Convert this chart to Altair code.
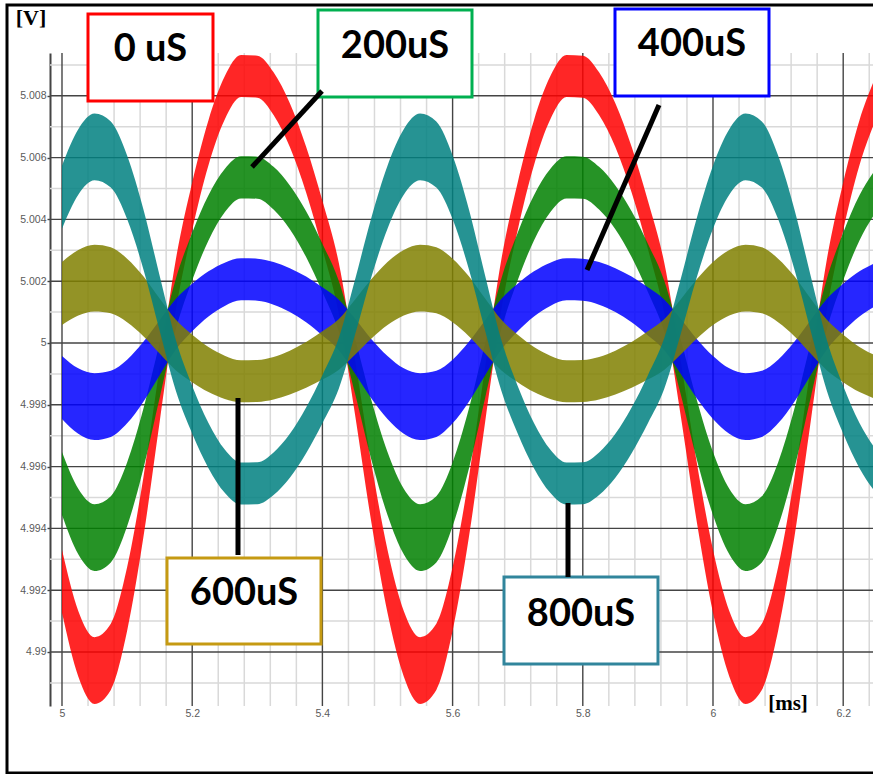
import altair as alt
import pandas as pd

# sample times (ms)
time_ms = [5.0, 5.025, 5.05, 5.075, 5.1, 5.125, 5.15, 5.175, 5.2, 5.225,
           5.25, 5.275, 5.3, 5.325, 5.35, 5.375, 5.4, 5.425, 5.45, 5.475,
           5.5, 5.525, 5.55, 5.575, 5.6, 5.625, 5.65, 5.675, 5.7, 5.725,
           5.75, 5.775, 5.8, 5.825, 5.85, 5.875, 5.9, 5.925, 5.95, 5.975,
           6.0, 6.025, 6.05, 6.075, 6.1, 6.125, 6.15, 6.175, 6.2, 6.225, 6.25]

# half-width of the switching ripple band (V)
ripple = [0.00102, 0.00106, 0.00108, 0.00107, 0.00103, 0.00097, 0.00089, 0.00082, 0.00077, 0.00073,
          0.00070, 0.00068, 0.00068, 0.00069, 0.00071, 0.00074, 0.00078, 0.00082, 0.00089, 0.00096,
          0.00102, 0.00106, 0.00108, 0.00107, 0.00103, 0.00097, 0.00089, 0.00082, 0.00077, 0.00073,
          0.00070, 0.00068, 0.00068, 0.00069, 0.00071, 0.00074, 0.00078, 0.00082, 0.00089, 0.00096,
          0.00102, 0.00106, 0.00108, 0.00107, 0.00103, 0.00097, 0.00089, 0.00082, 0.00077, 0.00073,
          0.00070]

# band centre (V) for each delay
v_0us = [4.99229, 4.99027, 4.98940, 4.98984, 4.99171, 4.99468, 4.99833, 5.00190, 5.00442, 5.00648,
         5.00793, 5.00864, 5.00862, 5.00807, 5.00705, 5.00561, 5.00382, 5.00179, 4.99859, 4.99518,
         4.99229, 4.99027, 4.98940, 4.98984, 4.99171, 4.99468, 4.99833, 5.00190, 5.00442, 5.00648,
         5.00793, 5.00864, 5.00862, 5.00807, 5.00705, 5.00561, 5.00382, 5.00179, 4.99859, 4.99518,
         4.99229, 4.99027, 4.98940, 4.98984, 4.99171, 4.99468, 4.99833, 5.00190, 5.00442, 5.00648,
         5.00793]
v_200us = [4.99545, 4.99422, 4.99370, 4.99397, 4.99510, 4.99690, 4.99911, 5.00127, 5.00280, 5.00405,
           5.00493, 5.00536, 5.00535, 5.00501, 5.00439, 5.00352, 5.00243, 5.00120, 4.99926, 4.99720,
           4.99545, 4.99422, 4.99370, 4.99397, 4.99510, 4.99690, 4.99911, 5.00127, 5.00280, 5.00405,
           5.00493, 5.00536, 5.00535, 5.00501, 5.00439, 5.00352, 5.00243, 5.00120, 4.99926, 4.99720,
           4.99545, 4.99422, 4.99370, 4.99397, 4.99510, 4.99690, 4.99911, 5.00127, 5.00280, 5.00405,
           5.00493]
v_400us = [4.99856, 4.99812, 4.99794, 4.99803, 4.99843, 4.99907, 4.99985, 5.00061, 5.00115, 5.00159,
           5.00190, 5.00206, 5.00205, 5.00193, 5.00171, 5.00141, 5.00102, 5.00059, 4.99990, 4.99917,
           4.99856, 4.99812, 4.99794, 4.99803, 4.99843, 4.99907, 4.99985, 5.00061, 5.00115, 5.00159,
           5.00190, 5.00206, 5.00205, 5.00193, 5.00171, 5.00141, 5.00102, 5.00059, 4.99990, 4.99917,
           4.99856, 4.99812, 4.99794, 4.99803, 4.99843, 4.99907, 4.99985, 5.00061, 5.00115, 5.00159,
           5.00190]
v_600us = [5.00160, 5.00195, 5.00210, 5.00203, 5.00170, 5.00119, 5.00055, 4.99993, 4.99950, 4.99914,
           4.99889, 4.99876, 4.99877, 4.99886, 4.99904, 4.99929, 4.99960, 4.99995, 5.00051, 5.00110,
           5.00160, 5.00195, 5.00210, 5.00203, 5.00170, 5.00119, 5.00055, 4.99993, 4.99950, 4.99914,
           4.99889, 4.99876, 4.99877, 4.99886, 4.99904, 4.99929, 4.99960, 4.99995, 5.00051, 5.00110,
           5.00160, 5.00195, 5.00210, 5.00203, 5.00170, 5.00119, 5.00055, 4.99993, 4.99950, 4.99914,
           4.99889]
v_800us = [5.00472, 5.00586, 5.00635, 5.00610, 5.00504, 5.00336, 5.00129, 4.99927, 4.99784, 4.99668,
           4.99585, 4.99545, 4.99546, 4.99577, 4.99635, 4.99717, 4.99818, 4.99933, 5.00115, 5.00308,
           5.00472, 5.00586, 5.00635, 5.00610, 5.00504, 5.00336, 5.00129, 4.99927, 4.99784, 4.99668,
           4.99585, 4.99545, 4.99546, 4.99577, 4.99635, 4.99717, 4.99818, 4.99933, 5.00115, 5.00308,
           5.00472, 5.00586, 5.00635, 5.00610, 5.00504, 5.00336, 5.00129, 4.99927, 4.99784, 4.99668,
           4.99585]

series_names = ["0 uS", "200uS", "400uS", "600uS", "800uS"]
series_values = [v_0us, v_200us, v_400us, v_600us, v_800us]
series_colors = ["#FF0000", "#008000", "#0000FF", "#808000", "#008080"]

# axis ticks
major_x = [5.0, 5.2, 5.4, 5.6, 5.8, 6.0, 6.2]
minor_x = [5.04, 5.08, 5.12, 5.16, 5.24, 5.28, 5.32, 5.36, 5.44, 5.48, 5.52, 5.56,
           5.64, 5.68, 5.72, 5.76, 5.84, 5.88, 5.92, 5.96, 6.04, 6.08, 6.12, 6.16, 6.24]
major_y = [4.99, 4.992, 4.994, 4.996, 4.998, 5.0, 5.002, 5.004, 5.006, 5.008]
minor_y = [4.989, 4.991, 4.993, 4.995, 4.997, 4.999, 5.001, 5.003, 5.005, 5.007, 5.009]

# annotation boxes (data coordinates)
box_label = ["0 uS", "200uS", "400uS", "600uS", "800uS"]
box_x1 = [5.03994, 5.39324, 5.84946, 5.16129, 5.67896]
box_x2 = [5.23195, 5.62980, 6.08602, 5.39785, 5.91551]
box_y1 = [5.010647, 5.010777, 5.010809, 4.993042, 4.992427]
box_y2 = [5.007832, 5.007961, 5.007994, 4.990259, 4.989612]
box_ty = [5.009482, 5.009579, 5.009644, 4.991877, 4.991197]
box_colors = ["#FF0000", "#00B050", "#0000FF", "#C59A12", "#31859C"]

# pointer lines
ptr_x1 = [5.39939, 5.91705, 5.27035, 5.77727]
ptr_y1 = [5.008155, 5.007702, 4.998220, 4.994822]
ptr_x2 = [5.29186, 5.80645, 5.27035, 5.77727]
ptr_y2 = [5.005696, 5.002362, 4.993139, 4.992427]

xs = alt.Scale(domain=[4.98157, 6.24578], nice=False, zero=False)
ys = alt.Scale(domain=[4.988252, 5.009385], nice=False, zero=False)

ax_x = alt.Axis(values=major_x, format=".1~f", title=None, grid=False, ticks=False,
                domain=False, labelFontSize=10.5, labelColor="#5a5a5a",
                labelFont="Liberation Sans", labelPadding=2, labelFlush=False,
                labelOverlap=False)
ax_y = alt.Axis(values=major_y, format=".3~f", title=None, grid=False, ticks=True,
                tickSize=3, tickColor="#444444", tickWidth=1.4, domain=True,
                domainColor="#444444", domainWidth=2, labelFontSize=10.5,
                labelColor="#5a5a5a", labelFont="Liberation Sans", labelPadding=1,
                labelFlush=False, labelOverlap=False)

rows = []
for name, vals in zip(series_names, series_values):
    for t, c, h in zip(time_ms, vals, ripple):
        rows.append({"series": name, "t": t, "lo": c - h, "hi": c + h})
df = pd.DataFrame(rows)

minor_gx = alt.Chart(pd.DataFrame({"gx": minor_x})).mark_rule(
    color="#d9d9d9", strokeWidth=1.5).encode(x=alt.X("gx:Q", scale=xs, axis=ax_x))
minor_gy = alt.Chart(pd.DataFrame({"gy": minor_y})).mark_rule(
    color="#d9d9d9", strokeWidth=1.5).encode(y=alt.Y("gy:Q", scale=ys, axis=ax_y))
major_gx = alt.Chart(pd.DataFrame({"gx": major_x})).mark_rule(
    color="#444444", strokeWidth=1.4).encode(x=alt.X("gx:Q", scale=xs, axis=ax_x))
major_gy = alt.Chart(pd.DataFrame({"gy": major_y})).mark_rule(
    color="#444444", strokeWidth=1.4).encode(y=alt.Y("gy:Q", scale=ys, axis=ax_y))

area_layers = []
for name, col in zip(series_names, series_colors):
    area_layers.append(
        alt.Chart(df[df["series"] == name]).mark_area(
            color=col, opacity=0.85, interpolate="monotone", clip=True
        ).encode(x=alt.X("t:Q", scale=xs, axis=ax_x),
                 y=alt.Y("lo:Q", scale=ys, axis=ax_y), y2="hi:Q")
    )

box_df = pd.DataFrame({"label": box_label, "x1": box_x1, "x2": box_x2, "y1": box_y1,
                       "y2": box_y2, "ty": box_ty, "col": box_colors})
box_df["tx"] = (box_df["x1"] + box_df["x2"]) / 2

boxes = alt.Chart(box_df).mark_rect(fill="white", strokeWidth=3, clip=False).encode(
    x=alt.X("x1:Q", scale=xs, axis=ax_x), x2="x2:Q",
    y=alt.Y("y1:Q", scale=ys, axis=ax_y), y2="y2:Q",
    stroke=alt.Color("col:N", scale=None))
box_text = alt.Chart(box_df).mark_text(
    font="Lato", fontWeight="bold", fontSize=38, color="black",
    align="center", baseline="middle", clip=False).encode(
    x=alt.X("tx:Q", scale=xs, axis=ax_x), y=alt.Y("ty:Q", scale=ys, axis=ax_y),
    text="label:N")

ptr_df = pd.DataFrame({"x1": ptr_x1, "y1": ptr_y1, "x2": ptr_x2, "y2": ptr_y2})
pointers = alt.Chart(ptr_df).mark_rule(color="black", strokeWidth=5, clip=False).encode(
    x=alt.X("x1:Q", scale=xs, axis=ax_x), y=alt.Y("y1:Q", scale=ys, axis=ax_y),
    x2="x2:Q", y2="y2:Q")

one = pd.DataFrame({"a": [0]})
v_title = alt.Chart(one).mark_text(
    text="[V]", font="Liberation Serif", fontWeight="bold", fontSize=22,
    align="center", baseline="middle", color="black").encode(
    x=alt.value(-19), y=alt.value(-35))
ms_title = alt.Chart(one).mark_text(
    text="[ms]", font="Liberation Serif", fontWeight="bold", fontSize=21,
    align="center", baseline="middle", color="black").encode(
    x=alt.value(738), y=alt.value(651))
frame = alt.Chart(one).mark_rect(filled=False, stroke="black", strokeWidth=3, clip=False).encode(
    x=alt.value(-43), x2=alt.value(840), y=alt.value(-48), y2=alt.value(720))

chart = alt.layer(
    minor_gx, minor_gy, major_gx, major_gy, *area_layers,
    boxes, pointers, box_text, v_title, ms_title, frame
).properties(
    width=823, height=653,
    autosize=alt.AutoSizeParams(type="none"),
    padding={"left": 50, "top": 53, "right": 0, "bottom": 68},
    background="white"
).configure_view(stroke=None)

chart.save("out.html", embed_options={"renderer": "svg", "actions": False})
